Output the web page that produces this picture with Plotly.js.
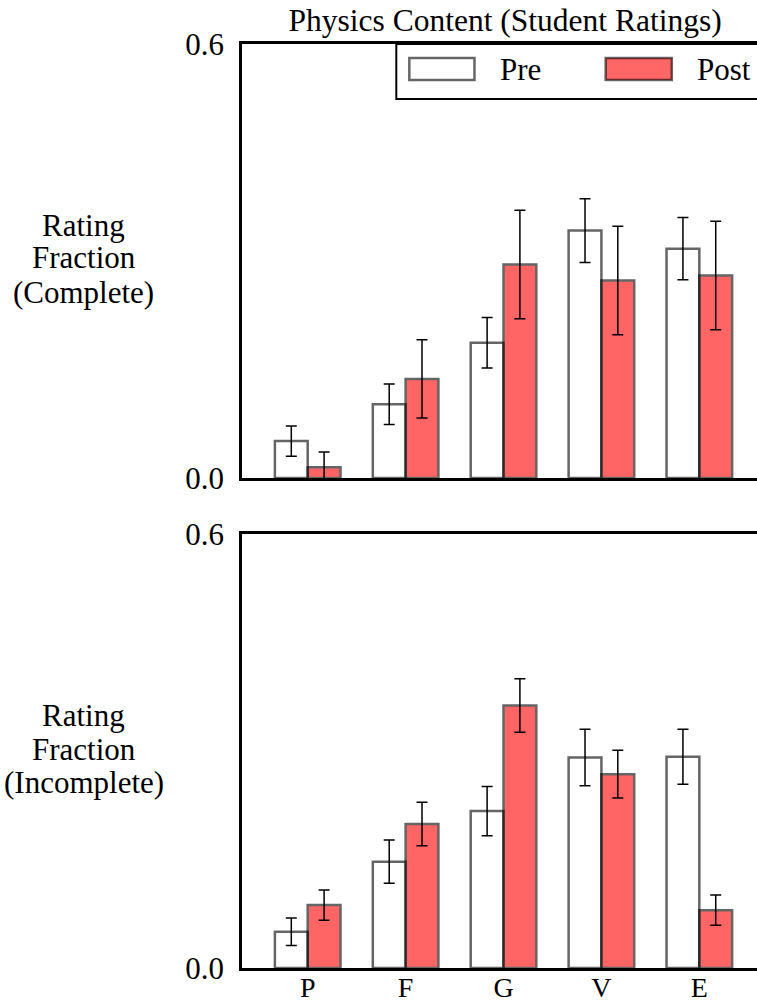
<!DOCTYPE html>
<html>
<head>
<meta charset="utf-8">
<script src="https://cdn.plot.ly/plotly-3.0.1.min.js"></script>
<style>
  html, body { margin: 0; padding: 0; background: #ffffff; }
  #chart { width: 757px; height: 1004px; }
</style>
</head>
<body>
<div id="chart"></div>
<script>
// ---- Data ----
var categories = ['P', 'F', 'G', 'V', 'E'];

var preComplete      = [0.051, 0.102, 0.187, 0.342, 0.317];
var preCompleteErr   = [0.021, 0.028, 0.035, 0.044, 0.043];
var postComplete     = [0.015, 0.137, 0.295, 0.273, 0.280];
var postCompleteErr  = [0.021, 0.054, 0.075, 0.075, 0.075];

var preIncomplete     = [0.050, 0.147, 0.217, 0.291, 0.292];
var preIncompleteErr  = [0.019, 0.030, 0.034, 0.039, 0.038];
var postIncomplete    = [0.087, 0.199, 0.363, 0.268, 0.080];
var postIncompleteErr = [0.021, 0.030, 0.037, 0.033, 0.021];

var seriesNames = ['Pre', 'Post'];
var yTickVals = [0, 0.6];
var yTickText = ['0.0', '0.6'];
var titleText = 'Physics Content (Student Ratings)';
var topLabel = ['Rating', 'Fraction', '(Complete)'];
var bottomLabel = ['Rating', 'Fraction', '(Incomplete)'];

// ---- Styles ----
var FONT = 'Liberation Serif';
var preFill = 'rgb(255,255,255)';
var postFill = 'rgb(255,0,0)';
var edge = 'rgb(0,0,0)';

function barTrace(name, y, err, fill, xa, ya) {
  return {
    type: 'bar',
    name: name,
    x: categories,
    y: y,
    xaxis: xa,
    yaxis: ya,
    marker: { color: fill, opacity: 0.6, line: { color: edge, width: 2.5 } },
    error_y: { type: 'data', array: err, visible: true, color: '#000000', thickness: 1.5, width: 5.5 }
  };
}

var data = [
  barTrace(seriesNames[0], preComplete, preCompleteErr, preFill, 'x', 'y'),
  barTrace(seriesNames[1], postComplete, postCompleteErr, postFill, 'x', 'y'),
  barTrace(seriesNames[0], preIncomplete, preIncompleteErr, preFill, 'x2', 'y2'),
  barTrace(seriesNames[1], postIncomplete, postIncompleteErr, postFill, 'x2', 'y2')
];

var xRange = [-0.671, 4.589];

function xAxis(showLabels, anchor) {
  return {
    domain: [0, 1],
    anchor: anchor,
    range: xRange,
    showline: true, linecolor: '#000000', linewidth: 2.5, mirror: true,
    showgrid: false, zeroline: false,
    ticks: '',
    ticklabelstandoff: -7,
    showticklabels: showLabels,
    tickfont: { family: FONT, size: 28 }
  };
}
function yAxis(domain, anchor) {
  return {
    domain: domain,
    anchor: anchor,
    range: [0, 0.6],
    tickvals: yTickVals,
    ticktext: yTickText,
    showline: true, linecolor: '#000000', linewidth: 2.5, mirror: false,
    showgrid: false, zeroline: false,
    ticks: '',
    ticklabelstandoff: 9,
    tickfont: { family: FONT, size: 31 }
  };
}

// y-axis labels as horizontal multi-line annotations
var annotations = [];
var topLineY = [0.804, 0.7684, 0.7316];
var botLineY = [0.2728, 0.2370, 0.2008];
for (var i = 0; i < 3; i++) {
  annotations.push({ text: topLabel[i], xref: 'paper', yref: 'paper', x: -0.3074, y: topLineY[i],
    xanchor: 'center', yanchor: 'middle', showarrow: false, font: { family: FONT, size: 31 } });
  annotations.push({ text: bottomLabel[i], xref: 'paper', yref: 'paper', x: -0.3074, y: botLineY[i],
    xanchor: 'center', yanchor: 'middle', showarrow: false, font: { family: FONT, size: 31 } });
}
// legend texts
annotations.push({ text: seriesNames[0], xref: 'paper', yref: 'paper', x: 0.497, y: 0.9729,
  xanchor: 'left', yanchor: 'middle', showarrow: false, font: { family: FONT, size: 31 } });
annotations.push({ text: seriesNames[1], xref: 'paper', yref: 'paper', x: 0.880, y: 0.9729,
  xanchor: 'left', yanchor: 'middle', showarrow: false, font: { family: FONT, size: 31 } });

var shapes = [
  // legend frame
  { type: 'rect', xref: 'paper', yref: 'paper', x0: 0.2996, x1: 1.02, y0: 0.9405, y1: 1.0,
    line: { color: '#000000', width: 2 }, fillcolor: '#ffffff', layer: 'above' },
  // Pre swatch
  { type: 'rect', xref: 'paper', yref: 'paper', x0: 0.3249, x1: 0.4514, y0: 0.9610, y1: 0.9848,
    line: { color: 'rgba(0,0,0,0.6)', width: 2.5 }, fillcolor: '#ffffff', layer: 'above' },
  // Post swatch
  { type: 'rect', xref: 'paper', yref: 'paper', x0: 0.7062, x1: 0.8346, y0: 0.9610, y1: 0.9848,
    line: { color: 'rgba(0,0,0,0.6)', width: 2.5 }, fillcolor: 'rgba(255,0,0,0.6)', layer: 'above' }
];

var layout = {
  width: 757, height: 1004,
  margin: { l: 242, r: 0, t: 44, b: 36, pad: 0 },
  paper_bgcolor: '#ffffff', plot_bgcolor: '#ffffff',
  font: { family: FONT, color: '#000000', size: 30 },
  title: { text: titleText, font: { family: FONT, size: 31.5 },
           xref: 'paper', x: 0.511, xanchor: 'center', yref: 'container', y: 0.98, yanchor: 'middle' },
  barmode: 'group', bargap: 0.33, bargroupgap: 0,
  showlegend: false,
  xaxis: xAxis(false, 'y'),
  yaxis: yAxis([0.5303, 1], 'x'),
  xaxis2: xAxis(true, 'y2'),
  yaxis2: yAxis([0, 0.4697], 'x2'),
  annotations: annotations,
  shapes: shapes
};

Plotly.newPlot('chart', data, layout, { displayModeBar: false });
</script>
</body>
</html>
